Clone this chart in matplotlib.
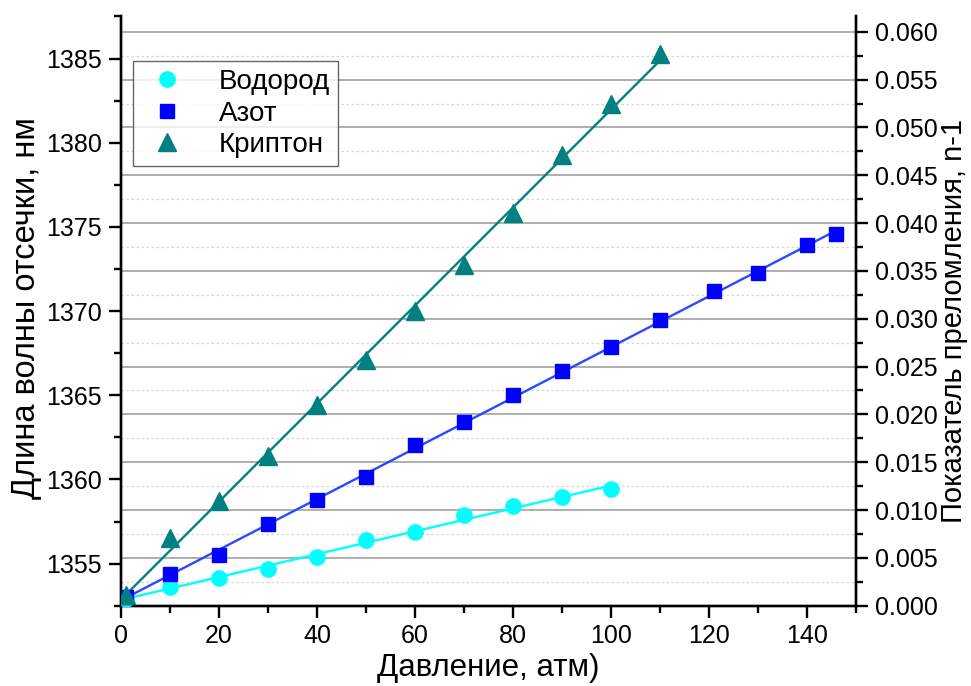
import numpy as np
import matplotlib
matplotlib.use("Agg")
import matplotlib.pyplot as plt
from matplotlib.ticker import MultipleLocator, FormatStrFormatter

plt.rcParams['font.family'] = ['Liberation Sans', 'DejaVu Sans']

# pressure, atm
x_h = [1, 10, 20, 30, 40, 50, 60, 70, 80, 90, 100]
x_n = [1, 10, 20, 30, 40, 50, 60, 70, 80, 90, 100, 110, 121, 130, 140, 146]
x_kr = [1, 10, 20, 30, 40, 50, 60, 70, 80, 90, 100, 110]

# cut-off wavelength, nm
y_h = [1352.92, 1353.62, 1354.17, 1354.70, 1355.40, 1356.38, 1356.88, 1357.87,
       1358.43, 1358.96, 1359.41]
y_n = [1353.04, 1354.41, 1355.49, 1357.38, 1358.80, 1360.14, 1362.07, 1363.39,
       1364.99, 1366.42, 1367.87, 1369.49, 1371.19, 1372.26, 1373.90, 1374.57]
y_kr = [1353.16, 1356.54, 1358.71, 1361.40, 1364.44, 1367.07, 1369.98, 1372.74,
        1375.83, 1379.29, 1382.32, 1385.29]

labels = ['Водород', 'Азот', 'Криптон']

fig = plt.figure(figsize=(9.71, 6.86), dpi=100)
ax = fig.add_axes([0.1246, 0.117, 0.757, 0.859])
ax2 = ax.twinx()

# gridlines belong to the right axis, data axis goes on top
ax.set_zorder(ax2.get_zorder() + 1)
ax.patch.set_visible(False)

series = [
    (x_h, y_h, 'o', '#00ffff', '#00ffff', 11),
    (x_n, y_n, 's', '#0000ff', '#2a48ff', 9.8),
    (x_kr, y_kr, '^', '#008080', '#008080', 13),
]
for (xs, ys, m, mc, lc, ms), lab in zip(series, labels):
    xs = np.array(xs, dtype=float)
    ys = np.array(ys)
    k, b = np.polyfit(xs, ys, 1)
    xf = np.array([xs[0], xs[-1]])
    ax.plot(xf, k * xf + b, color=lc, lw=1.7, zorder=2)
    ax.plot(xs, ys, ls='none', marker=m, color=mc, ms=ms, mec=mc, label=lab, zorder=3)

ax.set_xlim(0, 150)
ax.set_ylim(1352.5, 1387.5)
ax2.set_ylim(0, 0.0616)

ax.xaxis.set_major_locator(MultipleLocator(20))
ax.xaxis.set_minor_locator(MultipleLocator(10))
ax.yaxis.set_major_locator(MultipleLocator(5))
ax.yaxis.set_minor_locator(MultipleLocator(2.5))
ax2.yaxis.set_major_locator(MultipleLocator(0.005))
ax2.yaxis.set_minor_locator(MultipleLocator(0.0025))
ax2.yaxis.set_major_formatter(FormatStrFormatter('%.3f'))

ax2.grid(which='major', axis='y', color='#a8a8a8', lw=1.3)
ax2.grid(which='minor', axis='y', color='#d6d6d6', lw=0.9, ls=(0, (2, 2)))

for a in (ax, ax2):
    a.spines['top'].set_visible(False)
    for s in ('left', 'right', 'bottom'):
        a.spines[s].set_linewidth(1.7)
    a.tick_params(which='major', direction='out', length=8.5, width=1.7,
                  labelsize=18, pad=5)
    a.tick_params(which='minor', direction='out', length=5, width=1.7)

ax.set_xlabel('Давление, атм)', fontsize=22.5, labelpad=3)
ax.set_ylabel('Длина волны отсечки, нм', fontsize=23.5)
ax2.set_ylabel('Показатель преломления, n-1', fontsize=21)
ax.yaxis.set_label_coords(-0.108, 0.506)
ax2.yaxis.set_label_coords(1.114, 0.484)

leg = ax.legend(loc='upper left', bbox_to_anchor=(0.016, 0.925), fontsize=20,
                frameon=True, fancybox=False, edgecolor='#404040',
                handletextpad=0.9, borderpad=0.3, labelspacing=0.2,
                handlelength=1.9, borderaxespad=0)
leg.get_frame().set_linewidth(1.0)

fig.savefig('out.png', dpi=100)
